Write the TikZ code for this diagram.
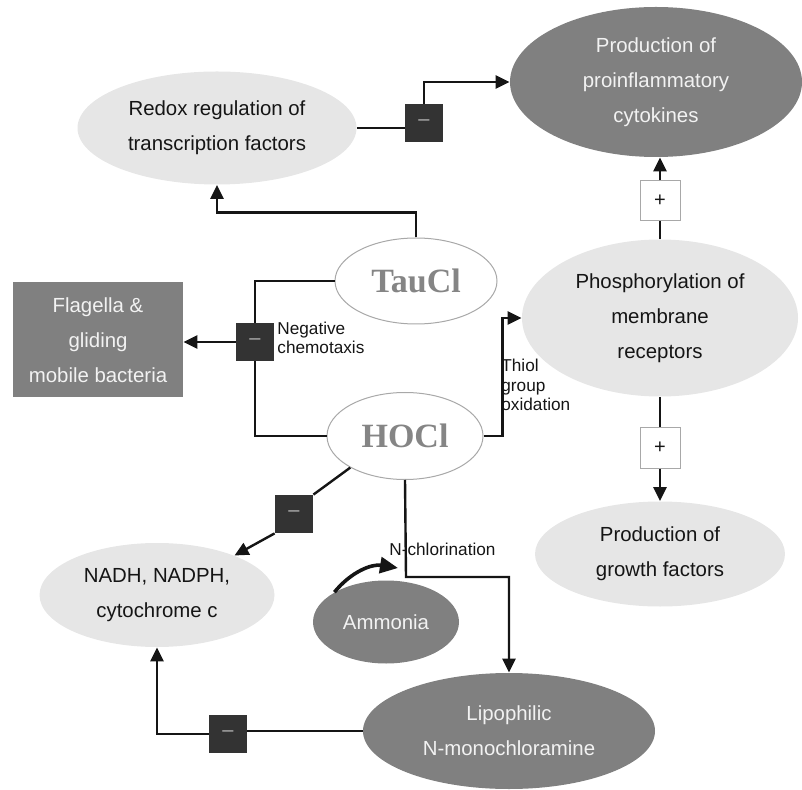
\documentclass[tikz,border=0pt]{standalone}
\usepackage{fontspec}
\setmainfont{Liberation Sans}
\newfontfamily\agentfont{Liberation Serif}
\usetikzlibrary{positioning, arrows.meta, calc, shapes.geometric}
\definecolor{ink}{HTML}{151515}
\definecolor{pale}{HTML}{E6E6E6}
\definecolor{slate}{HTML}{808080}
\definecolor{snow}{HTML}{F2F2F2}
\definecolor{tar}{HTML}{333333}
\definecolor{rim}{HTML}{A8A8A8}
\definecolor{agentc}{HTML}{858585}
\definecolor{dashc}{HTML}{B0B0B0}
\tikzset{
  lightell/.style={ellipse, fill=pale, inner sep=0pt, align=center, text=ink,
                   font=\fontsize{10.2}{17.5}\selectfont},
  darkell/.style={ellipse, fill=slate, inner sep=0pt, align=center, text=snow,
                  font=\fontsize{10.2}{17.5}\selectfont},
  agent/.style={ellipse, draw=rim, fill=white, line width=0.5pt, inner sep=0pt,
                text=agentc, font=\agentfont\bfseries\fontsize{17}{17}\selectfont},
  minusbox/.style={fill=tar, minimum size=19pt, inner sep=0pt, text=dashc,
                   font=\normalsize},
  plusbox/.style={draw=rim, fill=white, line width=0.5pt, minimum size=20pt,
                  inner sep=0pt, text=ink, font=\normalsize},
  note/.style={align=left, inner sep=0pt, text=ink,
               font=\fontsize{8.6}{9.7}\selectfont},
  link/.style={draw=ink, line width=1.2pt},
  arr/.style={-{Triangle[length=7pt, width=6.5pt]}, draw=ink, line width=1.2pt},
}
\begin{document}
\begin{tikzpicture}[x=0.5pt, y=-0.5pt]
  \useasboundingbox (0,0) rectangle (802,790);
  \node[lightell, minimum width=139.5pt, minimum height=56.5pt] (redox) at (217,128)
    {Redox regulation of\\transcription factors};
  \node[darkell, minimum width=146pt, minimum height=75pt] (prod) at (656,82)
    {Production of\\proinflammatory\\cytokines};
  \node[minusbox] (m1) at (424,123) {\textendash};
  \node[plusbox] (p1) at (660,201) {+};
  \node[agent, minimum width=81pt, minimum height=43pt] (tau) at (416,281) {TauCl};
  \node[agent, minimum width=78pt, minimum height=43.5pt] (hocl) at (405,436) {HOCl};
  \node[rectangle, fill=slate, text=snow, align=center, inner sep=0pt,
        minimum width=85pt, minimum height=57.5pt,
        font=\fontsize{10.2}{17.5}\selectfont] (flag) at (98,340)
    {Flagella \&\\gliding\\mobile bacteria};
  \node[minusbox] (m2) at (255,342) {\textendash};
  \node[note, anchor=west] (negc) at (277,338) {Negative\\chemotaxis};
  \node[lightell, minimum width=138pt, minimum height=78.5pt] (phos) at (660,318)
    {Phosphorylation of\\membrane\\receptors};
  \node[note, anchor=north west] (thiol) at (501,359) {Thiol\\group\\oxidation};
  \node[plusbox] (p2) at (660,448) {+};
  \node[lightell, minimum width=125pt, minimum height=52.5pt] (growth) at (660,554)
    {Production of\\growth factors};
  \node[lightell, minimum width=117.5pt, minimum height=52pt] (nadh) at (157,595)
    {NADH, NADPH,\\cytochrome c};
  \node[minusbox] (m3) at (294,514) {\textendash};
  \node[note, anchor=west] (nchl) at (389,549) {N-chlorination};
  \node[darkell, minimum width=73pt, minimum height=41.5pt] (ammo) at (386,622)
    {Ammonia};
  \node[darkell, minimum width=146pt, minimum height=58pt] (lipo) at (509,731)
    {Lipophilic\\N-monochloramine};
  \node[minusbox] (m4) at (228,734) {\textendash};
  \coordinate (nbend) at (406,577);
  \coordinate (ammotip) at (398,568);

  \draw[link] (redox.east) -- (redox.east -| m1.west);
  \draw[arr] (m1.north) |- (prod.west);
  \draw[link] (phos.north) -- (p1.south);
  \draw[arr] (p1.north) -- (prod.south -| p1.north);
  \draw[arr] (tau.north) -- ++(0,-25) -| (redox.south);
  \draw[link] (tau.west) -| (m2.north);
  \draw[arr] (m2.west) -- (m2.west -| flag.east);
  \draw[link] (m2.south) |- (hocl.west);
  \draw[arr] (hocl.east) -- ++(19,0) |- (phos.west);
  \draw[link] (phos.south) -- (p2.north);
  \draw[arr] (p2.south) -- (growth.north);
  \draw[link] (hocl.210) -- (m3.north east);
  \draw[arr] (m3.south west) -- (nadh.27);
  \draw[arr] (hocl.south) -- (nbend) -| (lipo.north);
  \draw[link] (lipo.west) -- (lipo.west -| m4.east);
  \draw[arr] (m4.west) -| (nadh.south);
  \draw[-{Triangle[length=9pt, width=8pt]}, draw=ink, line width=1.8pt]
    (ammo.150) to[bend left=30] (ammotip);
\end{tikzpicture}
\end{document}
